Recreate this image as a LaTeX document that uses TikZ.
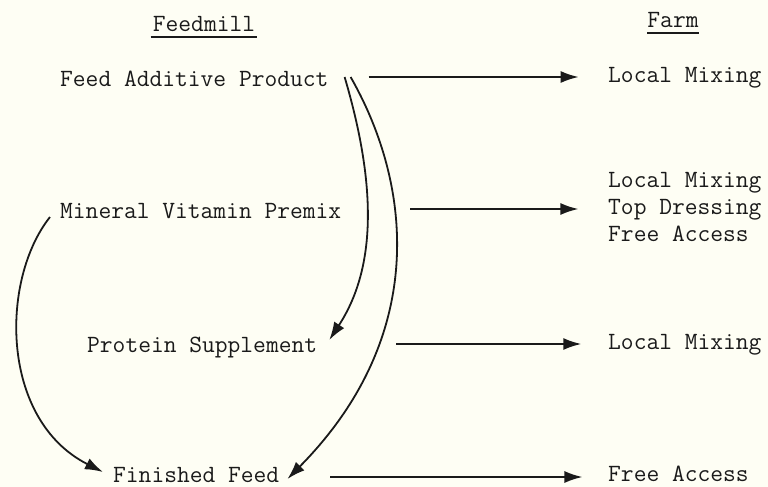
\documentclass[tikz,border=0pt]{standalone}
\usepackage{fontspec}
\setmonofont{Latin Modern Mono}
\usetikzlibrary{arrows.meta}
\definecolor{paper}{HTML}{FEFEF4}
\definecolor{ink}{HTML}{1A1A1A}
\begin{document}
\begin{tikzpicture}[x=1pt,y=-1pt,
  lbl/.style={inner sep=0pt,anchor=base west,text=ink,font=\ttfamily\fontsize{24.8}{27}\selectfont},
  head/.style={inner sep=0pt,anchor=base,text=ink,font=\ttfamily\fontsize{24.8}{27}\selectfont},
  flow/.style={draw=ink,line width=1.8pt,-{Latex[length=18pt,width=12pt]}},
  uline/.style={draw=ink,line width=1.5pt}]
\fill[paper] (0,0) rectangle (768,487);
\useasboundingbox (0,0) rectangle (768,487);
% headings
\node[head] (feedmill) at (204,32) {Feedmill};
\node[head] (farm) at (673,28) {Farm};
\draw[uline] ([xshift=-2pt,yshift=-5pt]feedmill.base west) -- ([xshift=2pt,yshift=-5pt]feedmill.base east);
\draw[uline] ([yshift=-5pt]farm.base west) -- ([yshift=-5pt]farm.base east);
% feedmill products
\node[lbl] (fap) at (60,86) {Feed Additive Product};
\node[lbl] (mvp) at (60,218) {Mineral Vitamin Premix};
\node[lbl] (ps) at (87,352) {Protein Supplement};
\node[lbl] (ff) at (113,482) {Finished Feed};
% farm uses
\node[lbl] (lm1) at (608,82) {Local Mixing};
\node[lbl] (lm2) at (608,187) {Local Mixing};
\node[lbl] (td) at (608,214) {Top Dressing};
\node[lbl] (fa2) at (608,241) {Free Access};
\node[lbl] (lm3) at (608,349) {Local Mixing};
\node[lbl] (fa3) at (608,481) {Free Access};
% horizontal arrows
\draw[flow] ([xshift=40pt,yshift=9pt]fap.base east) -- ++(210,0);
\draw[flow] ([xshift=69pt,yshift=9pt]mvp.base east) -- ++(168,0);
\draw[flow] ([xshift=79pt,yshift=8pt]ps.base east) -- ++(185,0);
\draw[flow] ([xshift=51pt,yshift=5pt]ff.base east) -- ++(252,0);
% curved arrows
\draw[flow] ([xshift=16pt,yshift=9pt]fap.base east) .. controls (378,190) and (375,270) .. ([xshift=12pt,yshift=12pt]ps.base east);
\draw[flow] ([xshift=22pt,yshift=9pt]fap.base east) .. controls (415,190) and (425,340) .. ([xshift=8pt,yshift=3pt]ff.base east);
\draw[flow] ([xshift=-10pt,yshift=1pt]mvp.base west) .. controls (0,280) and (0,420) .. ([xshift=-10pt,yshift=10pt]ff.base west);
\end{tikzpicture}
\end{document}
